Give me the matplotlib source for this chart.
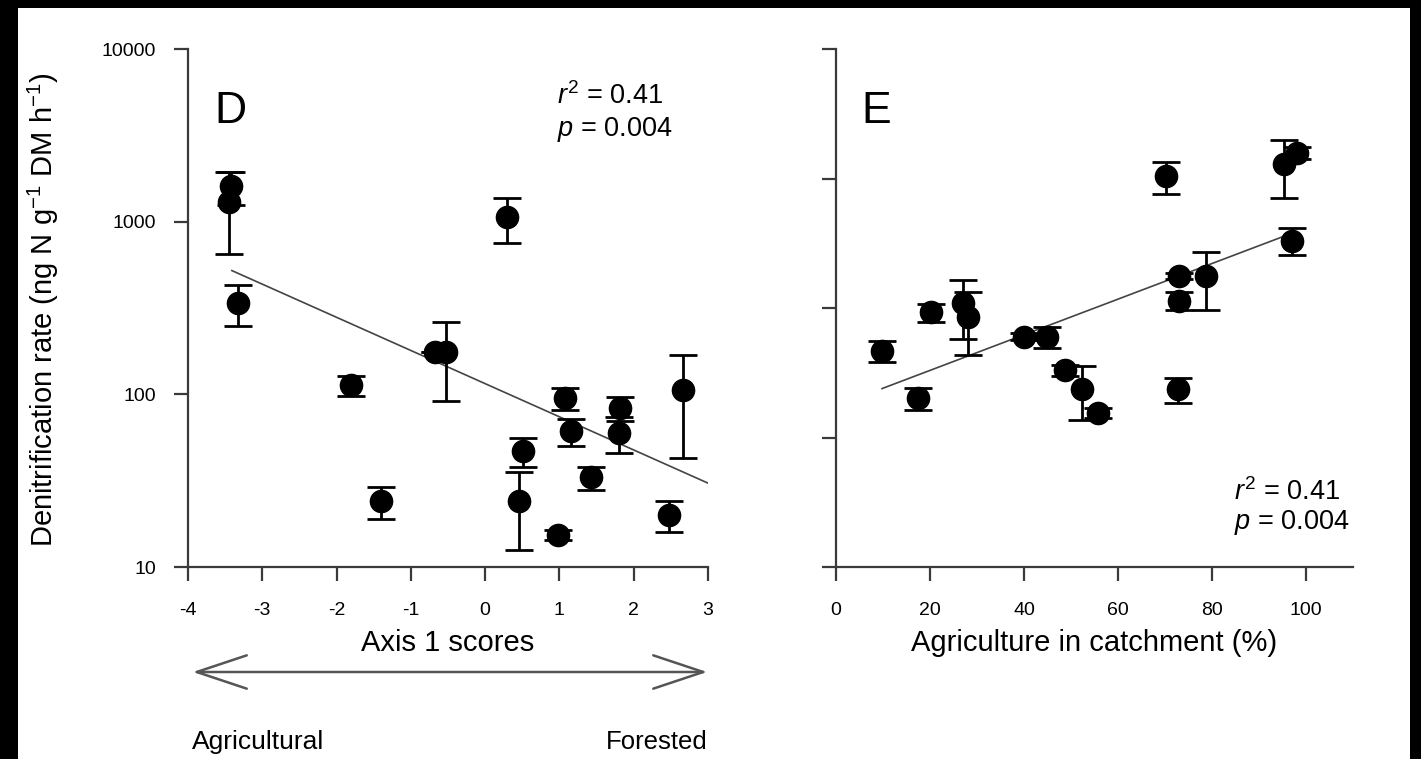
import matplotlib
matplotlib.use('Agg')
import matplotlib.pyplot as plt
from matplotlib.patches import Rectangle, FancyArrowPatch

plt.rcParams['font.family'] = ['Liberation Sans', 'DejaVu Sans']
plt.rcParams['mathtext.fontset'] = 'custom'
plt.rcParams['mathtext.rm'] = 'Liberation Sans'
plt.rcParams['mathtext.it'] = 'Liberation Sans:italic'
plt.rcParams['axes.unicode_minus'] = False

# panel D : axis 1 scores vs denitrification rate
d_x = [-3.45, -3.42, -3.33, -1.81, -1.40, -0.67, -0.53, 0.30, 0.51, 0.45, 0.98, 1.07, 1.16, 1.43, 1.82, 1.80, 2.48, 2.67]
d_y = [1300, 1600, 340, 113, 24, 177, 177, 1060, 47, 24, 15.3, 95, 61, 33, 83, 60, 20, 106]
d_err = [650, 350, 90, 15, 5, 0, 85, 310, 9, 11.5, 1, 14, 11, 5, 13, 14, 4, 63]
d_fit_x = [-3.41, 3.0]
d_fit_y = [521, 30.6]

# panel E : agriculture in catchment vs denitrification rate
e_x = [9.8, 17.4, 20.2, 27.0, 28.0, 40.0, 44.9, 48.7, 52.3, 55.7, 70.2, 73.0, 73.0, 72.8, 78.7, 95.3, 98.1, 97.0]
e_y = [179, 95, 298, 336, 279, 216, 216, 138, 108, 78, 1830, 487, 349, 107, 487, 2170, 2510, 777]
e_err = [25, 14, 37, 126, 110, 10, 30, 10, 37, 5, 380, 20, 42, 18, 180, 800, 200, 140]
e_fit_x = [9.8, 96.8]
e_fit_y = [108, 853]

d_ticks = [-4, -3, -2, -1, 0, 1, 2, 3]
e_ticks = [0, 20, 40, 60, 80, 100]
y_ticks = [10, 100, 1000, 10000]

W, H = 1421, 759
fig = plt.figure(figsize=(W / 100, H / 100), dpi=100, facecolor='black')
fig.patches.append(Rectangle((18 / W, 0), (1410 - 18) / W, 1 - 8 / H,
                             transform=fig.transFigure, facecolor='white', edgecolor='none', zorder=-10))

ax1 = fig.add_axes([188 / W, 1 - 567 / H, 520 / W, 518 / H])
ax2 = fig.add_axes([836 / W, 1 - 567 / H, 517 / W, 518 / H])

spine_col = '#3a3a3a'
for ax in (ax1, ax2):
    ax.set_facecolor('none')
    ax.set_yscale('log')
    ax.set_ylim(10, 10000)
    ax.spines['top'].set_visible(False)
    ax.spines['right'].set_visible(False)
    ax.spines['left'].set_color(spine_col)
    ax.spines['bottom'].set_color(spine_col)
    ax.spines['left'].set_linewidth(1.6)
    ax.spines['bottom'].set_linewidth(1.6)
    ax.tick_params(axis='both', which='major', length=10, width=1.6, color=spine_col,
                   labelsize=14)
    ax.tick_params(axis='x', pad=15)
    ax.tick_params(axis='y', pad=13)
    ax.tick_params(axis='y', which='minor', left=False)

# D
ax1.errorbar(d_x, d_y, yerr=d_err, fmt='o', color='black', markersize=16,
             elinewidth=2, capsize=10, capthick=2, zorder=3)
ax1.plot(d_fit_x, d_fit_y, color='#444444', lw=1.2, zorder=2)
ax1.set_xlim(-4, 3)
ax1.set_xticks(d_ticks)
ax1.set_xticklabels([str(t) for t in d_ticks])
ax1.set_yticks(y_ticks)
ax1.set_yticklabels([str(t) for t in y_ticks])
ax1.set_xlabel('Axis 1 scores', fontsize=21, va='top')
ax1.xaxis.set_label_coords(0.5, -0.12)
ax1.set_ylabel('Denitrification rate (ng N g$^{-1}$ DM h$^{-1}$)', fontsize=21)
ax1.yaxis.set_label_coords(-0.245, 0.497)
ax1.text(0.05, 0.88, 'D', transform=ax1.transAxes, fontsize=32, va='center', ha='left')
ax1.text(0.71, 0.91, '$\\mathit{r}^2$ = 0.41', transform=ax1.transAxes, fontsize=19.5, va='center')
ax1.text(0.71, 0.845, '$\\mathit{p}$ = 0.004', transform=ax1.transAxes, fontsize=19.5, va='center')

# E
ax2.errorbar(e_x, e_y, yerr=e_err, fmt='o', color='black', markersize=16,
             elinewidth=2, capsize=10, capthick=2, zorder=3)
ax2.plot(e_fit_x, e_fit_y, color='#444444', lw=1.2, zorder=2)
ax2.set_xlim(0, 110)
ax2.set_xticks(e_ticks)
ax2.set_xticklabels([str(t) for t in e_ticks])
ax2.set_yticks([10 ** (1 + 0.75 * k) for k in range(5)])
ax2.set_yticklabels([])
ax2.set_xlabel('Agriculture in catchment (%)', fontsize=21, va='top')
ax2.xaxis.set_label_coords(0.5, -0.12)
ax2.text(0.05, 0.88, 'E', transform=ax2.transAxes, fontsize=32, va='center', ha='left')
ax2.text(0.77, 0.145, '$\\mathit{r}^2$ = 0.41', transform=ax2.transAxes, fontsize=19.5, va='center')
ax2.text(0.77, 0.085, '$\\mathit{p}$ = 0.004', transform=ax2.transAxes, fontsize=19.5, va='center')

# arrow under the D panel
ay = 1 - 672 / H
fig.patches.append(FancyArrowPatch(
    (190 / W, ay), (710 / W, ay), transform=fig.transFigure,
    arrowstyle='<->,head_length=1.8,head_width=0.6', mutation_scale=20,
    color='#555555', lw=1.8))
fig.text(192 / W, 1 - 742 / H, 'Agricultural', fontsize=19, ha='left', va='center')
fig.text(708 / W, 1 - 742 / H, 'Forested', fontsize=18.5, ha='right', va='center')

fig.savefig('out.png', dpi=100, facecolor=fig.get_facecolor())
